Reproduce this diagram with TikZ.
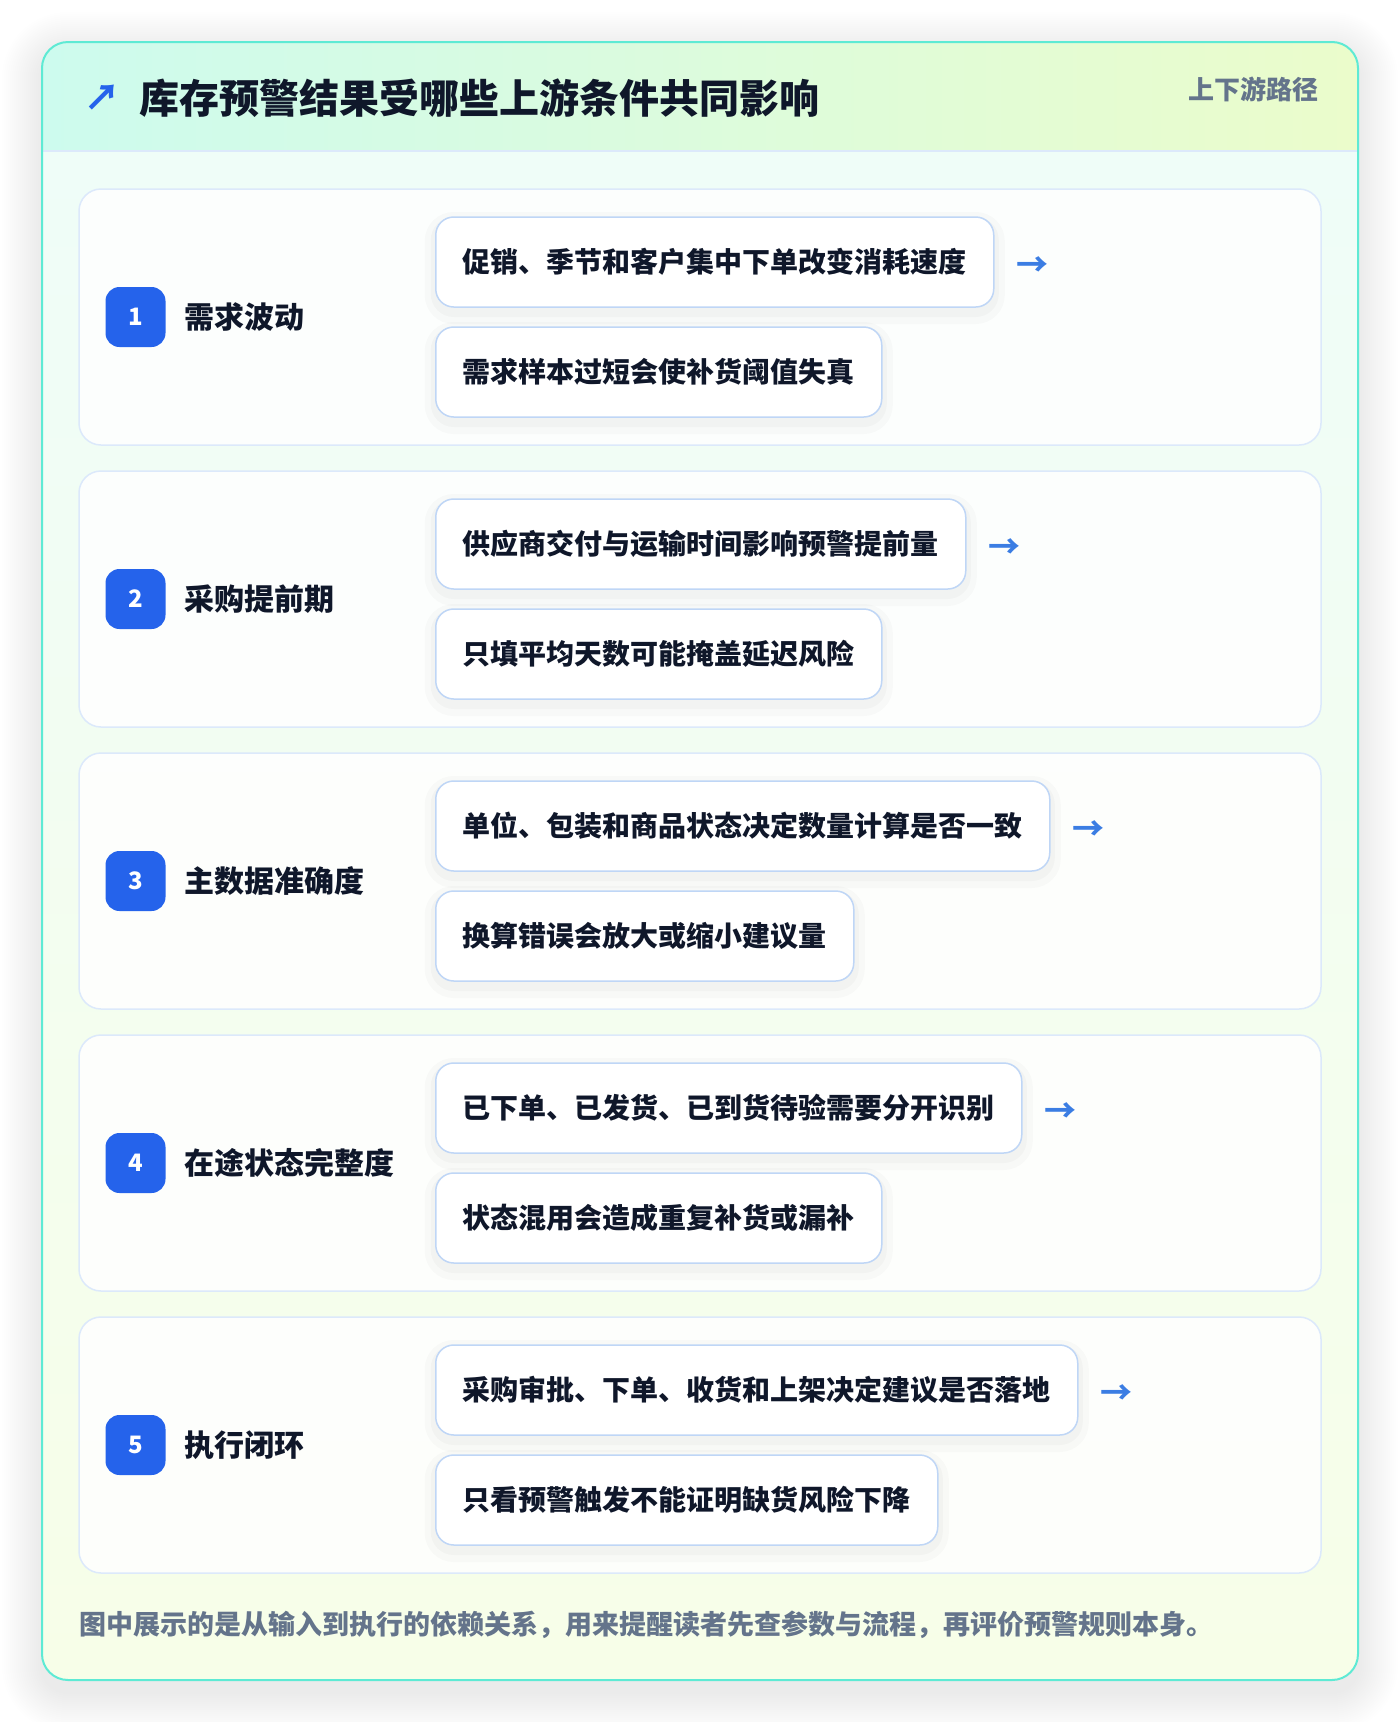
\documentclass[tikz,border=0pt]{standalone}
\usepackage{fontspec}
\setmainfont{Noto Sans CJK SC}
\usetikzlibrary{positioning}

\definecolor{ink}{HTML}{0F172A}
\definecolor{muted}{HTML}{64748B}
\definecolor{badgeblue}{HTML}{2563EB}
\definecolor{arrowblue}{HTML}{3B7DE3}
\definecolor{teal}{HTML}{5EEAD4}
\definecolor{headleft}{HTML}{CDFBEE}
\definecolor{headright}{HTML}{EBFCCB}
\definecolor{bodytop}{HTML}{EFFDF8}
\definecolor{bodybottom}{HTML}{F7FEE8}
\definecolor{secline}{HTML}{DCE9FB}
\definecolor{itemline}{HTML}{BFD6F6}

\begin{document}
\begin{tikzpicture}[
  x=1pt,
  y=-1pt,
  section/.style={draw=secline, line width=1.5pt, fill=white, fill opacity=0.85, rounded corners=22pt, minimum width=1242pt, minimum height=256pt, inner sep=0pt},
  badge/.style={fill=badgeblue, rounded corners=14pt, minimum size=60pt, inner sep=0pt, text=white, font=\bfseries\fontsize{24}{28}\selectfont},
  label/.style={anchor=west, inner sep=0pt, text=ink, font=\bfseries\fontsize{30}{34}\selectfont},
  softshadow/.style={preaction={draw=black, draw opacity=0.018, line width=22pt, transform canvas={yshift=-6pt}},
    preaction={draw=black, draw opacity=0.022, line width=10pt, transform canvas={yshift=-5pt}}},
  itembox/.style={anchor=west, softshadow, draw=itemline, line width=1.5pt, fill=white, rounded corners=18pt, minimum height=90pt, inner xsep=27pt, inner ysep=0pt, text=ink, font=\bfseries\fontsize{28}{34}\selectfont},
  nextarrow/.style={inner sep=0pt, text=arrowblue, font=\bfseries\fontsize{32}{36}\selectfont, yshift=-5pt}
  ]
    % page and card outline
    \useasboundingbox (0,0) rectangle (1400,1722);
    \fill[white] (0,0) rectangle (1400,1722);
    % soft shadow under the card
    \foreach \s in {1,...,20}
      \fill[black, opacity=0.005, rounded corners=26pt+2*\s] (42-2*\s,52-2*\s) rectangle (1358+2*\s,1692+2*\s);

\begin{scope}
  \clip[rounded corners=26pt] (42,42) rectangle (1358,1680);
  \shade[left color=headleft, right color=headright] (42,42) rectangle (1358,151);
  \shade[top color=bodytop, bottom color=bodybottom] (42,151) rectangle (1358,1680);
  \draw[secline, line width=2pt] (42,151) -- (1358,151);
\end{scope}
    \draw[teal, line width=2pt, rounded corners=26pt] (42,42) rectangle (1358,1680);

% header
\node[inner sep=0pt, text=badgeblue, font=\bfseries\fontsize{36}{40}\selectfont] (icon) at (102,98) {↗};
\node[anchor=west, inner sep=0pt, text=ink, font=\bfseries\fontsize{40}{46}\selectfont] (title) at (139,98) {库存预警结果受哪些上游条件共同影响};
\node[anchor=east, inner sep=0pt, text=muted, font=\bfseries\fontsize{26}{30}\selectfont] (tag) at (1319,89) {上下游路径};

%%%%%%%%%%  sections
% rows at y = 317 + 282*(i-1)

% 1 - demand
\node[section] (sec1) at (700,317) {};
\node[badge] (badge1) at (135.5,317) {1};
\node[label] (lab1) at (184,317) {需求波动};
\node[itembox] (itemA1) at (435,262) {促销、季节和客户集中下单改变消耗速度};
\node[itembox] (itemB1) at (435,372) {需求样本过短会使补货阈值失真};
\node[nextarrow, right=22pt of itemA1] (arr1) {→};

% 2 - lead time
\node[section] (sec2) at (700,599) {};
\node[badge] (badge2) at (135.5,599) {2};
\node[label] (lab2) at (184,599) {采购提前期};
\node[itembox] (itemA2) at (435,544) {供应商交付与运输时间影响预警提前量};
\node[itembox] (itemB2) at (435,654) {只填平均天数可能掩盖延迟风险};
\node[nextarrow, right=22pt of itemA2] (arr2) {→};

% 3 - master data
\node[section] (sec3) at (700,881) {};
\node[badge] (badge3) at (135.5,881) {3};
\node[label] (lab3) at (184,881) {主数据准确度};
\node[itembox] (itemA3) at (435,826) {单位、包装和商品状态决定数量计算是否一致};
\node[itembox] (itemB3) at (435,936) {换算错误会放大或缩小建议量};
\node[nextarrow, right=22pt of itemA3] (arr3) {→};

% 4 - in transit
\node[section] (sec4) at (700,1163) {};
\node[badge] (badge4) at (135.5,1163) {4};
\node[label] (lab4) at (184,1163) {在途状态完整度};
\node[itembox] (itemA4) at (435,1108) {已下单、已发货、已到货待验需要分开识别};
\node[itembox] (itemB4) at (435,1218) {状态混用会造成重复补货或漏补};
\node[nextarrow, right=22pt of itemA4] (arr4) {→};

% 5 - execution
\node[section] (sec5) at (700,1445) {};
\node[badge] (badge5) at (135.5,1445) {5};
\node[label] (lab5) at (184,1445) {执行闭环};
\node[itembox] (itemA5) at (435,1390) {采购审批、下单、收货和上架决定建议是否落地};
\node[itembox] (itemB5) at (435,1500) {只看预警触发不能证明缺货风险下降};
\node[nextarrow, right=22pt of itemA5] (arr5) {→};

% footer note
\node[anchor=west, inner sep=0pt, text=muted, font=\bfseries\fontsize{27}{31}\selectfont] (note) at (79,1625) {图中展示的是从输入到执行的依赖关系，用来提醒读者先查参数与流程，再评价预警规则本身。};

\end{tikzpicture}
\end{document}
